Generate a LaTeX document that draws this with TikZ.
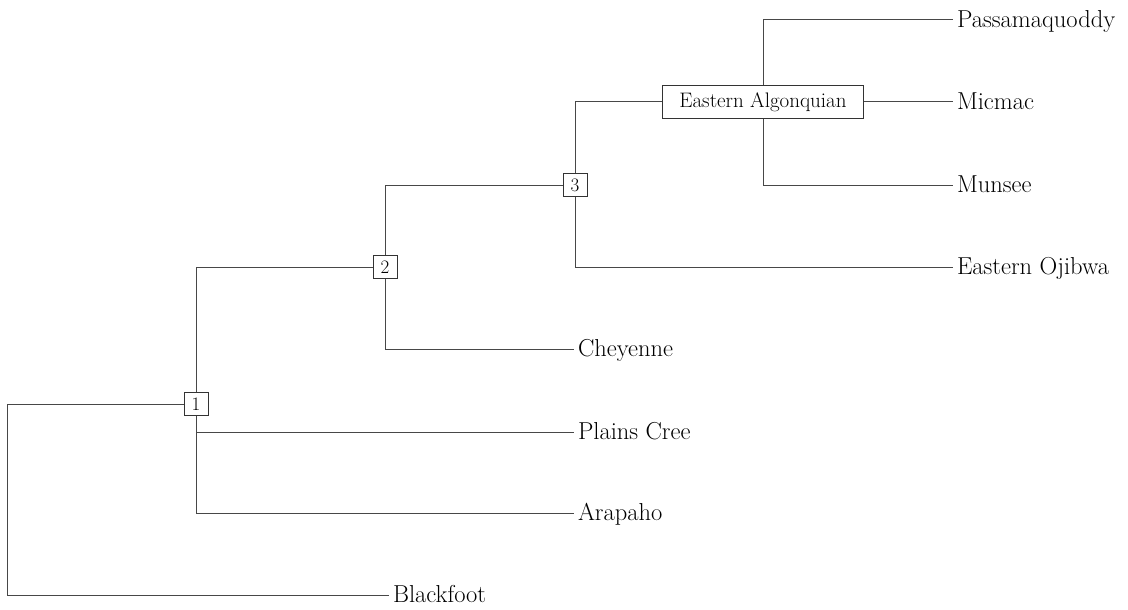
\documentclass[tikz,border=0pt]{standalone}
\begin{document}
\begin{tikzpicture}[x=1pt,y=-1pt,
  edge/.style={draw=black!72,line width=1pt},
  numbox/.style={draw=black!80,line width=0.9pt,fill=white,inner sep=0pt,minimum width=24pt,minimum height=23pt,font=\fontsize{19}{21}\selectfont},
  grpbox/.style={draw=black!80,line width=0.9pt,fill=white,inner sep=0pt,minimum width=201pt,minimum height=33pt,font=\fontsize{21}{24}\selectfont},
  leaf/.style={anchor=west,inner sep=0pt,outer sep=0pt,text height=15pt,text depth=0pt,font=\fontsize{24.5}{27}\selectfont,xshift=4pt}
]
\useasboundingbox (0,0) rectangle (1128,610);
\coordinate (root) at (7,404);
\node[numbox] (n1) at (196,404) {1};
\node[numbox] (n2) at (385,267) {2};
\node[numbox] (n3) at (575,185) {3};
\node[grpbox] (ea) at (763,102) {Eastern Algonquian};

\node[leaf] (pas) at (953,20) {Passamaquoddy};
\node[leaf] (mic) at (953,102) {Micmac};
\node[leaf] (mun) at (953,185) {Munsee};
\node[leaf] (oji) at (953,267) {Eastern Ojibwa};
\node[leaf] (che) at (574,349) {Cheyenne};
\node[leaf] (cre) at (574,432) {Plains Cree};
\node[leaf] (ara) at (574,513) {Arapaho};
\node[leaf] (bla) at (389,595) {Blackfoot};

\draw[edge] (n1.west) -- (root) |- ([xshift=-4pt]bla.west);
\draw[edge] (n1.north) |- (n2.west);
\draw[edge] (n1.south) |- ([xshift=-4pt]cre.west);
\draw[edge] (n1.south) |- ([xshift=-4pt]ara.west);
\draw[edge] (n2.north) |- (n3.west);
\draw[edge] (n2.south) |- ([xshift=-4pt]che.west);
\draw[edge] (n3.north) |- (ea.west);
\draw[edge] (n3.south) |- ([xshift=-4pt]oji.west);
\draw[edge] (ea.north) |- ([xshift=-4pt]pas.west);
\draw[edge] (ea.east) -- ([xshift=-4pt]mic.west);
\draw[edge] (ea.south) |- ([xshift=-4pt]mun.west);
\end{tikzpicture}
\end{document}
